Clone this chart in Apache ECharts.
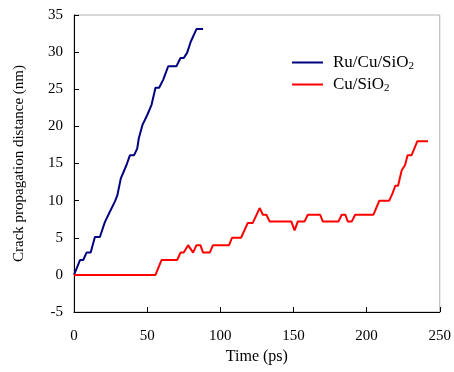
<!DOCTYPE html>
<html>
<head>
<meta charset="utf-8">
<script src="https://cdn.jsdelivr.net/npm/echarts@6/dist/echarts.min.js"></script>
<style>html,body{margin:0;padding:0;background:#fff;}#c{width:454px;height:372px;}</style>
</head>
<body>
<div id="c"></div>
<script>
var ruTime = [0, 4.1, 6.3, 8.6, 11.4, 14.3, 17.7, 21.1, 24.5, 28, 29.6, 32, 35.9, 38.2, 41, 43.2, 44.3, 46.8, 50, 53, 55.7, 58.2, 61, 64.4, 70, 72.8, 75, 77.3, 79.8, 83.7, 88.2];
var ruDist = [0, 2, 2, 3, 3, 5.1, 5.1, 7.1, 8.5, 9.9, 10.7, 13, 14.8, 16.1, 16.1, 17, 18.4, 20.2, 21.5, 22.9, 25.2, 25.2, 26.3, 28.1, 28.1, 29.2, 29.2, 29.9, 31.4, 33.1, 33.1];
var cuTime = [0, 55.7, 59.8, 70.5, 72.8, 75, 78, 81.4, 83.7, 86.4, 88.2, 92.8, 95, 106, 108, 114.2, 118.8, 122.2, 126.9, 129.1, 131.5, 133.7, 148.5, 150.8, 153, 157.6, 159.8, 168.3, 170, 180.8, 183, 185.5, 187.1, 189.9, 192.2, 204.7, 208.7, 215.5, 217.8, 219.6, 221.5, 224, 226.3, 228, 230.7, 234.7, 242];
var cuDist = [0, 0, 2, 2, 3, 3, 4, 3, 4, 4, 3, 3, 4, 4, 5, 5, 7, 7, 9, 8.1, 8.1, 7.2, 7.2, 6, 7.2, 7.2, 8.1, 8.1, 7.2, 7.2, 8.1, 8.1, 7.2, 7.2, 8.1, 8.1, 10, 10, 11, 12, 12, 14.1, 14.8, 16.1, 16.1, 18, 18];
var seriesNames = ['Ru/Cu/SiO2', 'Cu/SiO2'];
var xTicks = {min: 0, max: 250, step: 50};
var yTicks = {min: -5, max: 35, step: 5};

function zip(a, b) { return a.map(function (v, i) { return [v, b[i]]; }); }
var font = 'Liberation Serif, Times New Roman, serif';
var chart = echarts.init(document.getElementById('c'), null, {renderer: 'canvas'});
chart.setOption({
  animation: false,
  backgroundColor: '#fff',
  grid: {left: 74, right: 14, top: 15, bottom: 60, show: true, borderColor: '#b0b0b0', borderWidth: 1},
  legend: {
    orient: 'vertical', left: 287, top: 49, itemGap: 4, itemWidth: 31, itemHeight: 2, icon: 'rect',
    data: seriesNames,
    formatter: function (n) { return '{a|' + n.slice(0, -1) + '}{s|2}'; },
    textStyle: {
      fontFamily: font, fontSize: 17, color: '#000', padding: [0, 0, 0, 5],
      rich: {a: {fontFamily: font, fontSize: 17, color: '#000'}, s: {fontFamily: font, fontSize: 11, color: '#000', verticalAlign: 'bottom', padding: [8, 0, 0, 0]}}
    }
  },
  xAxis: {
    type: 'value', min: xTicks.min, max: xTicks.max, interval: xTicks.step,
    name: 'Time (ps)', nameLocation: 'middle', nameGap: 37,
    nameTextStyle: {fontFamily: font, fontSize: 16, color: '#000'},
    axisLine: {onZero: false, lineStyle: {color: '#000', width: 1}},
    axisTick: {inside: true, length: 5, lineStyle: {color: '#000'}},
    axisLabel: {fontFamily: font, fontSize: 15, color: '#000', margin: 17},
    splitLine: {show: false}
  },
  yAxis: {
    type: 'value', min: yTicks.min, max: yTicks.max, interval: yTicks.step,
    name: 'Crack propagation distance (nm)', nameLocation: 'middle', nameGap: 47,
    nameTextStyle: {fontFamily: font, fontSize: 15, color: '#000'},
    axisLine: {onZero: false, lineStyle: {color: '#000', width: 1}},
    axisTick: {inside: true, length: 5, lineStyle: {color: '#000'}},
    axisLabel: {fontFamily: font, fontSize: 15, color: '#000', margin: 11},
    splitLine: {show: false}
  },
  series: [
    {name: seriesNames[0], type: 'line', data: zip(ruTime, ruDist), symbol: 'none', lineStyle: {color: '#000080', width: 2}, itemStyle: {color: '#000080'}},
    {name: seriesNames[1], type: 'line', data: zip(cuTime, cuDist), symbol: 'none', lineStyle: {color: '#ff0000', width: 2}, itemStyle: {color: '#ff0000'}}
  ]
});
</script>
</body>
</html>
